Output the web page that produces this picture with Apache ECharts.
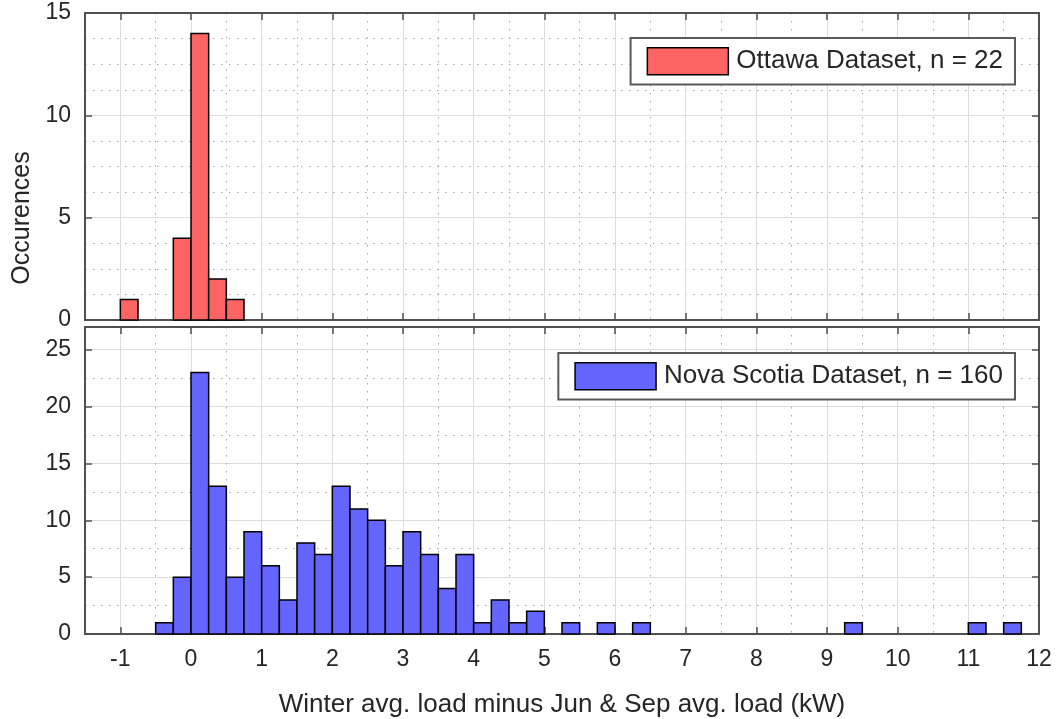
<!DOCTYPE html>
<html>
<head>
<meta charset="utf-8">
<style>
  html, body { margin: 0; padding: 0; background: #fff; }
  #chart { width: 1060px; height: 719px; }
</style>
<script src="https://cdn.jsdelivr.net/npm/echarts@6/dist/echarts.min.js"></script>
</head>
<body>
<div id="chart"></div>
<script>
// histogram bins (left edge), all bins are 0.25 kW wide
const binWidth = 0.25;
const ottawaBinStarts = [-1, -0.25, 0, 0.25, 0.5];
const ottawaCounts = [1, 4, 14, 2, 1];
const novaBinStarts = [-0.5, -0.25, 0, 0.25, 0.5, 0.75, 1, 1.25, 1.5, 1.75,
  2, 2.25, 2.5, 2.75, 3, 3.25, 3.5, 3.75, 4, 4.25,
  4.5, 4.75, 5.25, 5.75, 6.25, 9.25, 11, 11.5];
const novaCounts = [1, 5, 23, 13, 5, 9, 6, 3, 8, 7,
  13, 11, 10, 6, 9, 7, 4, 7, 1, 3,
  1, 2, 1, 1, 1, 1, 1, 1];
const xTicks = [-1, 0, 1, 2, 3, 4, 5, 6, 7, 8, 9, 10, 11, 12];
const seriesNames = ['Ottawa Dataset, n = 22', 'Nova Scotia Dataset, n = 160'];
const xName = 'Winter avg. load minus Jun & Sep avg. load (kW)';
const yName = 'Occurences';

const FONT = '"Liberation Sans", Arial, Helvetica, sans-serif';
const TXT = '#262626';
const BORDER = '#505050';
const MAJOR = '#dcdcdc';
const MINOR = '#a8a8a8';
const X_MIN = -1.5, X_MAX = 12;

const toBins = (starts, counts) => starts.map((s, i) => [s, s + binWidth, counts[i]]);

const chart = echarts.init(document.getElementById('chart'));

function histItem(params, api) {
  const p0 = api.coord([api.value(0), 0]);
  const p1 = api.coord([api.value(1), api.value(2)]);
  return {
    type: 'rect',
    shape: { x: p0[0], y: p1[1], width: p1[0] - p0[0], height: p0[1] - p1[1] },
    style: { fill: api.visual('color'), stroke: '#000', lineWidth: 1.5 },
  };
}

const boxLine = { show: true, onZero: false, lineStyle: { color: BORDER, width: 2 } };
const noLine = { show: false, onZero: false };

// x axes per grid: bottom ticks (main), top ticks, major grid, minor grid
function xAxesFor(grid, withLabels) {
  const tickCommon = {
    show: true, inside: true, length: 7, customValues: xTicks,
    lineStyle: { color: BORDER, width: 1.5 },
  };
  return [
    {
      gridIndex: grid, type: 'value', min: X_MIN, max: X_MAX, position: 'bottom',
      axisLine: boxLine,
      axisTick: tickCommon,
      axisLabel: {
        show: withLabels, customValues: xTicks, margin: 14,
        fontSize: 23, fontFamily: FONT, color: TXT,
      },
      splitLine: { show: false },
      name: withLabels ? xName : '', nameLocation: 'middle', nameGap: 58,
      nameTextStyle: { fontSize: 26, fontFamily: FONT, color: TXT },
    },
    {
      gridIndex: grid, type: 'value', min: X_MIN, max: X_MAX, position: 'top',
      axisLine: boxLine,
      axisTick: tickCommon,
      axisLabel: { show: false },
      splitLine: { show: false },
    },
    {
      gridIndex: grid, type: 'value', min: X_MIN, max: X_MAX, interval: 0.5,
      axisLine: noLine, axisTick: { show: false }, axisLabel: { show: false },
      splitLine: { show: true, lineStyle: { color: ['transparent', MAJOR], width: 1 } },
    },
    {
      gridIndex: grid, type: 'value', min: X_MIN, max: X_MAX, interval: 1,
      axisLine: noLine, axisTick: { show: false }, axisLabel: { show: false },
      splitLine: { show: true, lineStyle: { color: MINOR, width: 1, type: [1.5, 6.5] } },
    },
  ];
}

// y axes per grid: left main, right mirror, minor grid
function yAxesFor(grid, max, minorStep, minorColors) {
  return [
    {
      gridIndex: grid, type: 'value', min: 0, max: max, interval: 5, position: 'left',
      axisLine: boxLine,
      axisTick: { show: true, inside: true, length: 7, lineStyle: { color: BORDER, width: 1.5 } },
      axisLabel: {
        margin: 14, fontSize: 23, fontFamily: FONT, color: TXT,
        showMaxLabel: max % 5 === 0,
      },
      splitLine: { show: true, lineStyle: { color: MAJOR, width: 1 } },
    },
    {
      gridIndex: grid, type: 'value', min: 0, max: max, interval: 5, position: 'right',
      axisLine: boxLine,
      axisTick: { show: true, inside: true, length: 7, lineStyle: { color: BORDER, width: 1.5 } },
      axisLabel: { show: false },
      splitLine: { show: false },
    },
    {
      gridIndex: grid, type: 'value', min: 0, max: max, interval: minorStep,
      axisLine: noLine, axisTick: { show: false }, axisLabel: { show: false },
      splitLine: { show: true, lineStyle: { color: minorColors, width: 1, type: [1.5, 6.5] } },
    },
  ];
}

const legendCommon = {
  orient: 'vertical', icon: 'rect',
  itemWidth: 81, itemHeight: 27,
  backgroundColor: '#fff', borderColor: '#5a5a5a', borderWidth: 2,
  itemStyle: { borderColor: '#000', borderWidth: 1.5 },
  textStyle: { fontSize: 26, fontFamily: FONT, color: TXT, padding: [0, 0, 0, 3] },
};

chart.setOption({
  animation: false,
  backgroundColor: '#fff',
  grid: [
    { left: 85, right: 21, top: 13, height: 307 },
    { left: 85, right: 21, top: 327, height: 308 },
  ],
  xAxis: [...xAxesFor(0, false), ...xAxesFor(1, true)],
  yAxis: [
    ...yAxesFor(0, 15, 1.25, ['transparent', MINOR, MINOR, MINOR]),
    ...yAxesFor(1, 27, 2.5, ['transparent', MINOR]),
  ],
  legend: [
    { ...legendCommon, data: [seriesNames[0]], right: 45, top: 38, padding: [9, 12, 9, 16] },
    { ...legendCommon, data: [seriesNames[1]], right: 45, top: 353, padding: [9, 12, 9, 16] },
  ],
  graphic: [{
    type: 'text', x: 22, y: 218, rotation: Math.PI / 2,
    style: {
      text: yName, fontSize: 25, fontFamily: FONT, fill: TXT,
      align: 'center', verticalAlign: 'middle',
    },
  }],
  series: [
    {
      name: seriesNames[0], type: 'custom', xAxisIndex: 0, yAxisIndex: 0,
      itemStyle: { color: '#ff6464' },
      encode: { x: [0, 1], y: 2 },
      renderItem: histItem,
      data: toBins(ottawaBinStarts, ottawaCounts),
      z: 5,
    },
    {
      name: seriesNames[1], type: 'custom', xAxisIndex: 4, yAxisIndex: 3,
      itemStyle: { color: '#6464ff' },
      encode: { x: [0, 1], y: 2 },
      renderItem: histItem,
      data: toBins(novaBinStarts, novaCounts),
      z: 5,
    },
  ],
});
</script>
</body>
</html>
